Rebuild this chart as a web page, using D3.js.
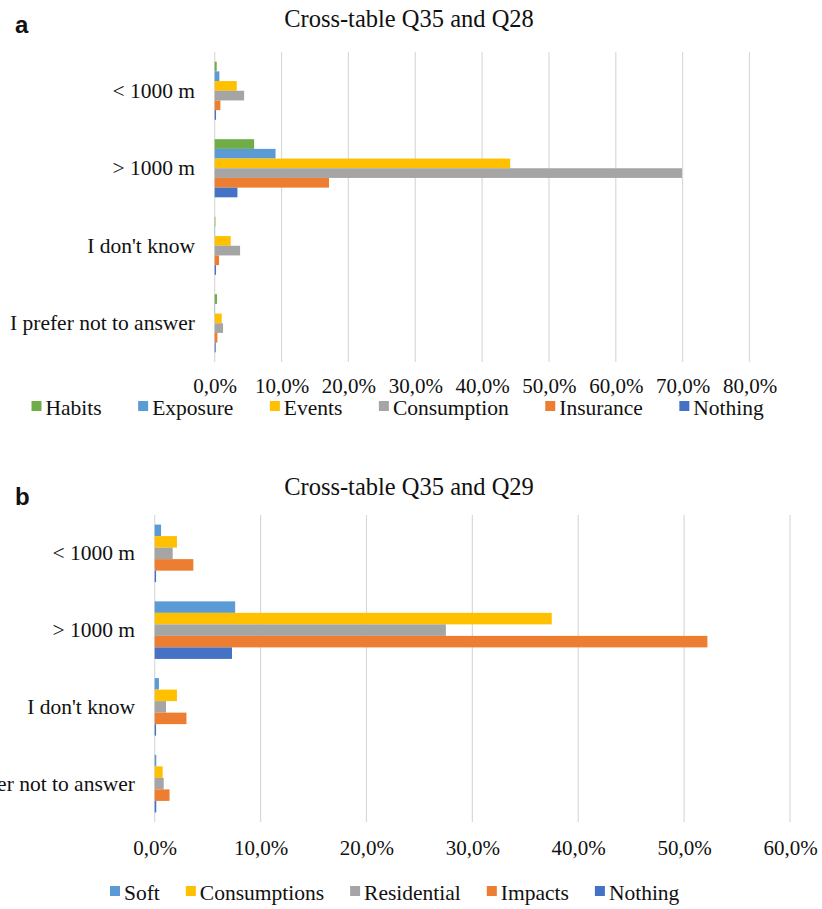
<!DOCTYPE html>
<html>
<head>
<meta charset="utf-8">
<script src="https://cdn.jsdelivr.net/npm/d3@7"></script>
<style>
  html, body { margin: 0; padding: 0; background: #fff; }
  svg { display: block; }
  text { font-family: "Liberation Serif", "Times New Roman", serif; fill: #111; }
</style>
</head>
<body>
<svg id="chart" width="822" height="909"></svg>
<script>
// Categories (answers to Q35), shared by both panels
const categories = ["< 1000 m", "> 1000 m", "I don't know", "I prefer not to answer"];

// Panel a: Q35 x Q28 (percent of respondents)
const seriesA = ["Habits", "Exposure", "Events", "Consumption", "Insurance", "Nothing"];
const habitsA      = [0.3, 5.9, 0.1, 0.35];
const exposureA    = [0.7, 9.1, 0.05, 0.05];
const eventsA      = [3.3, 44.2, 2.4, 1.05];
const consumptionA = [4.4, 69.9, 3.8, 1.25];
const insuranceA   = [0.85, 17.1, 0.65, 0.4];
const nothingA     = [0.2, 3.4, 0.2, 0.15];
const ticksA = [0, 10, 20, 30, 40, 50, 60, 70, 80];

// Panel b: Q35 x Q29 (percent of respondents)
const seriesB = ["Soft", "Consumptions", "Residential", "Impacts", "Nothing"];
const softB         = [0.6, 7.6, 0.4, 0.15];
const consumptionsB = [2.1, 37.5, 2.1, 0.75];
const residentialB  = [1.7, 27.5, 1.07, 0.85];
const impactsB      = [3.65, 52.2, 3.0, 1.4];
const nothingB      = [0.13, 7.3, 0.13, 0.15];
const ticksB = [0, 10, 20, 30, 40, 50, 60];

const colorsA = ["#70AD47", "#5B9BD5", "#FFC000", "#A5A5A5", "#ED7D31", "#4472C4"];
const colorsB = ["#5B9BD5", "#FFC000", "#A5A5A5", "#ED7D31", "#4472C4"];

const locale = d3.formatLocale({decimal: ",", thousands: ".", grouping: [3], currency: ["", "€"]});
const fmt = locale.format(".1%");

const svg = d3.select("#chart");
svg.append("rect").attr("width", 822).attr("height", 909).attr("fill", "#fff");

function panel(cfg) {
  const g = svg.append("g");

  // panel letter
  g.append("text")
    .attr("x", 15).attr("y", cfg.letterY)
    .style("font-family", "'Liberation Sans', Arial, sans-serif")
    .style("font-weight", "bold").style("font-size", "24px")
    .text(cfg.letter);

  // title
  g.append("text")
    .attr("x", 409).attr("y", cfg.titleY)
    .attr("text-anchor", "middle")
    .style("font-size", "24.5px")
    .text(cfg.title);

  const x = d3.scaleLinear().domain([0, cfg.max]).range([cfg.x0, cfg.x1]);
  const y = d3.scaleBand().domain(categories).range([cfg.yTop, cfg.yBottom])
    .paddingInner(0.25).paddingOuter(0.125);
  const ys = d3.scaleBand().domain(cfg.series).range([0, y.bandwidth()]);

  // vertical gridlines
  g.append("g").selectAll("line").data(cfg.ticks).join("line")
    .attr("x1", d => x(d)).attr("x2", d => x(d))
    .attr("y1", cfg.yTop).attr("y2", cfg.yBottom)
    .attr("stroke", "#d9d9d9").attr("stroke-width", 1.2);

  // bars
  const rows = [];
  cfg.series.forEach((s, si) => {
    cfg.values[si].forEach((v, ci) => rows.push({s, si, cat: categories[ci], v}));
  });
  g.append("g").selectAll("rect").data(rows).join("rect")
    .attr("x", x(0))
    .attr("y", d => y(d.cat) + ys(d.s))
    .attr("width", d => x(d.v) - x(0))
    .attr("height", ys.bandwidth())
    .attr("fill", d => cfg.colors[d.si]);

  // x axis tick labels
  const axis = d3.axisBottom(x).tickValues(cfg.ticks).tickSize(0).tickPadding(0)
    .tickFormat(d => fmt(d / 100));
  const ax = g.append("g").attr("transform", `translate(0,${cfg.tickY})`).call(axis);
  ax.select(".domain").remove();
  ax.selectAll("text")
    .attr("dy", 0).attr("y", 0)
    .attr("fill", "#111")
    .style("font-family", "'Liberation Serif', 'Times New Roman', serif")
    .style("font-size", "21px");

  // category labels
  const ay = d3.axisLeft(y).tickSize(0).tickPadding(0);
  const yax = g.append("g").attr("transform", `translate(${cfg.labelRight},0)`).call(ay);
  yax.select(".domain").remove();
  yax.selectAll("text")
    .attr("fill", "#111")
    .style("font-family", "'Liberation Serif', 'Times New Roman', serif")
    .style("font-size", "21.5px");

  // legend
  const leg = g.append("g").attr("transform", `translate(0,${cfg.legendY})`);
  let cx = cfg.legendX;
  cfg.series.forEach((s, i) => {
    leg.append("rect").attr("x", cx).attr("y", -14).attr("width", 10).attr("height", 10)
      .attr("fill", cfg.colors[i]);
    const t = leg.append("text").attr("x", cx + 14).attr("y", 0)
      .style("font-size", "21.5px").text(s);
    cx += 14 + t.node().getComputedTextLength() + cfg.legendGap;
  });
}

panel({
  letter: "a", letterY: 33, title: "Cross-table Q35 and Q28", titleY: 27,
  series: seriesA, colors: colorsA,
  values: [habitsA, exposureA, eventsA, consumptionA, insuranceA, nothingA],
  max: 80, ticks: ticksA, x0: 214.7, x1: 749.5,
  yTop: 52, yBottom: 362, tickY: 393, labelRight: 195,
  legendY: 415, legendX: 31.5, legendGap: 36.5
});

panel({
  letter: "b", letterY: 505, title: "Cross-table Q35 and Q29", titleY: 495,
  series: seriesB, colors: colorsB,
  values: [softB, consumptionsB, residentialB, impactsB, nothingB],
  max: 60, ticks: ticksB, x0: 154.7, x1: 790,
  yTop: 515, yBottom: 822, tickY: 855, labelRight: 135,
  legendY: 900, legendX: 110, legendGap: 26
});
</script>
</body>
</html>
